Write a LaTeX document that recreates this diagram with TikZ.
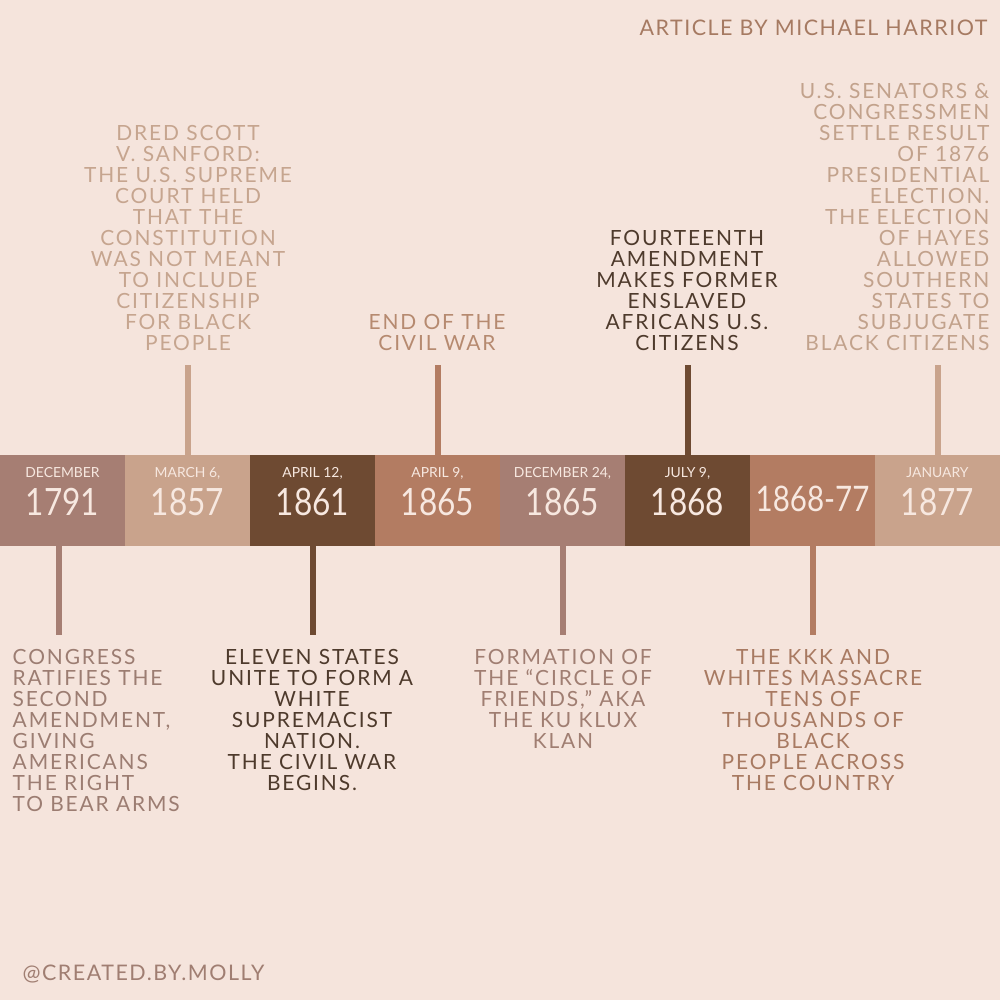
\documentclass[tikz,border=0pt]{standalone}
\usepackage{fontspec}
\setmainfont{Lato}
\newfontfamily\evfont[LetterSpace=9]{Lato}
\newfontfamily\tifont[LetterSpace=7]{Lato}
\newfontfamily\yrfont{Lato}
\definecolor{bg}{HTML}{F5E4DC}
\definecolor{mauve}{HTML}{A67E73}
\definecolor{tan}{HTML}{C9A38C}
\definecolor{darkb}{HTML}{6E4A32}
\definecolor{copper}{HTML}{B37C62}
\definecolor{onbar}{HTML}{F7E8E0}
\definecolor{tdred}{HTML}{C6A58F}
\definecolor{tend}{HTML}{B68A70}
\definecolor{tdark}{HTML}{4E3A2C}
\definecolor{tsen}{HTML}{C2A28C}
\definecolor{tcong}{HTML}{9C7D72}
\definecolor{tform}{HTML}{A07E72}
\definecolor{tkkk}{HTML}{A87A62}
\definecolor{ttitle}{HTML}{A67A62}
\newcommand{\yr}[1]{\scalebox{0.84}[1]{#1}}
\begin{document}
\begin{tikzpicture}[x=0.01cm,y=-0.01cm,
  seg/.style={rectangle,minimum width=1.25cm,minimum height=0.91cm,inner sep=0,outer sep=0,anchor=north west},
  small/.style={text=onbar,font=\fontsize{3.95pt}{4pt}\selectfont,inner sep=0},
  year/.style={text=onbar,font=\yrfont\fontsize{10.7pt}{11pt}\selectfont,inner sep=0},
  ev/.style={font=\evfont\fontsize{5.95pt}{5.97pt}\selectfont,inner xsep=0,inner ysep=0.135cm},
  conn/.style={line width=0.06cm}]
\fill[bg] (0,0) rectangle (1000,1000);
\useasboundingbox (0,0) rectangle (1000,1000);
% bar segments
\node[seg,fill=mauve]  (s1) at (0,455) {};
\node[seg,fill=tan]    (s2) at (125,455) {};
\node[seg,fill=darkb]  (s3) at (250,455) {};
\node[seg,fill=copper] (s4) at (375,455) {};
\node[seg,fill=mauve]  (s5) at (500,455) {};
\node[seg,fill=darkb]  (s6) at (625,455) {};
\node[seg,fill=copper] (s7) at (750,455) {};
\node[seg,fill=tan]    (s8) at (875,455) {};
% labels on bar
\node[small] (l1) at (62.5,473) {DECEMBER};
\node[small] (l2) at (187.5,473) {MARCH 6,};
\node[small] (l3) at (312.5,473) {APRIL 12,};
\node[small] (l4) at (437.5,473) {APRIL 9,};
\node[small] (l5) at (562.5,473) {DECEMBER 24,};
\node[small] (l6) at (687.5,473) {JULY 9,};
\node[small] (l8) at (937.5,473) {JANUARY};
\node[year] (y1) at (62.5,502) {\yr{1791}};
\node[year] (y2) at (187.5,502) {\yr{1857}};
\node[year] (y3) at (312.5,502) {\yr{1861}};
\node[year] (y4) at (437.5,502) {\yr{1865}};
\node[year] (y5) at (562.5,502) {\yr{1865}};
\node[year] (y6) at (687.5,502) {\yr{1868}};
\node[year,font=\yrfont\fontsize{10pt}{11pt}\selectfont] (y7) at (812.5,499) {\yr{1868-77}};
\node[year] (y8) at (937.5,502) {\yr{1877}};
% top events
\node[ev,text=tdred,align=center,anchor=south] (e2) at (188,365)
 {DRED SCOTT\\V. SANFORD:\\THE U.S. SUPREME\\COURT HELD\\THAT THE\\CONSTITUTION\\WAS NOT MEANT\\TO INCLUDE\\CITIZENSHIP\\FOR BLACK\\PEOPLE};
\node[ev,text=tend,align=center,anchor=south] (e4) at (437,365)
 {END OF THE\\CIVIL WAR};
\node[ev,text=tdark,align=center,anchor=south] (e6) at (687,365)
 {FOURTEENTH\\AMENDMENT\\MAKES FORMER\\ENSLAVED\\AFRICANS U.S.\\CITIZENS};
\node[ev,text=tsen,align=right,anchor=south east] (e8) at (990,365)
 {U.S. SENATORS \&\\CONGRESSMEN\\SETTLE RESULT\\OF 1876\\PRESIDENTIAL\\ELECTION.\\THE ELECTION\\OF HAYES\\ALLOWED\\SOUTHERN\\STATES TO\\SUBJUGATE\\BLACK CITIZENS};
% bottom events
\node[ev,text=tcong,align=left,anchor=north west] (e1) at (12,635)
 {CONGRESS\\RATIFIES THE\\SECOND\\AMENDMENT,\\GIVING\\AMERICANS\\THE RIGHT\\TO BEAR ARMS};
\node[ev,text=tdark,align=center,anchor=north] (e3) at (312,635)
 {ELEVEN STATES\\UNITE TO FORM A\\WHITE\\SUPREMACIST\\NATION.\\THE CIVIL WAR\\BEGINS.};
\node[ev,text=tform,align=center,anchor=north] (e5) at (563,635)
 {FORMATION OF\\THE “CIRCLE OF\\FRIENDS,” AKA\\THE KU KLUX\\KLAN};
\node[ev,text=tkkk,align=center,anchor=north] (e7) at (813,635)
 {THE KKK AND\\WHITES MASSACRE\\TENS OF\\THOUSANDS OF\\BLACK\\PEOPLE ACROSS\\THE COUNTRY};
% connectors
\draw[conn,draw=tan]    (s2.north) -- (s2.north |- e2.south);
\draw[conn,draw=copper] (s4.north) -- (s4.north |- e4.south);
\draw[conn,draw=darkb]  (s6.north) -- (s6.north |- e6.south);
\draw[conn,draw=tan]    (s8.north) -- (s8.north |- e8.south);
\draw[conn,draw=mauve]  ([xshift=-0.035cm]s1.south) -- ([xshift=-0.035cm]s1.south |- e1.north);
\draw[conn,draw=darkb]  (s3.south) -- (s3.south |- e3.north);
\draw[conn,draw=mauve]  (s5.south) -- (s5.south |- e5.north);
\draw[conn,draw=copper] (s7.south) -- (s7.south |- e7.north);
% title & footer
\node[text=ttitle,font=\tifont\fontsize{6.1pt}{7pt}\selectfont,inner sep=0,anchor=base east] (title) at (988,35) {ARTICLE BY MICHAEL HARRIOT};
\node[text=tform,font=\tifont\fontsize{6.1pt}{7pt}\selectfont,inner sep=0,anchor=base west] (foot) at (22,980) {@CREATED.BY.MOLLY};
\end{tikzpicture}
\end{document}
